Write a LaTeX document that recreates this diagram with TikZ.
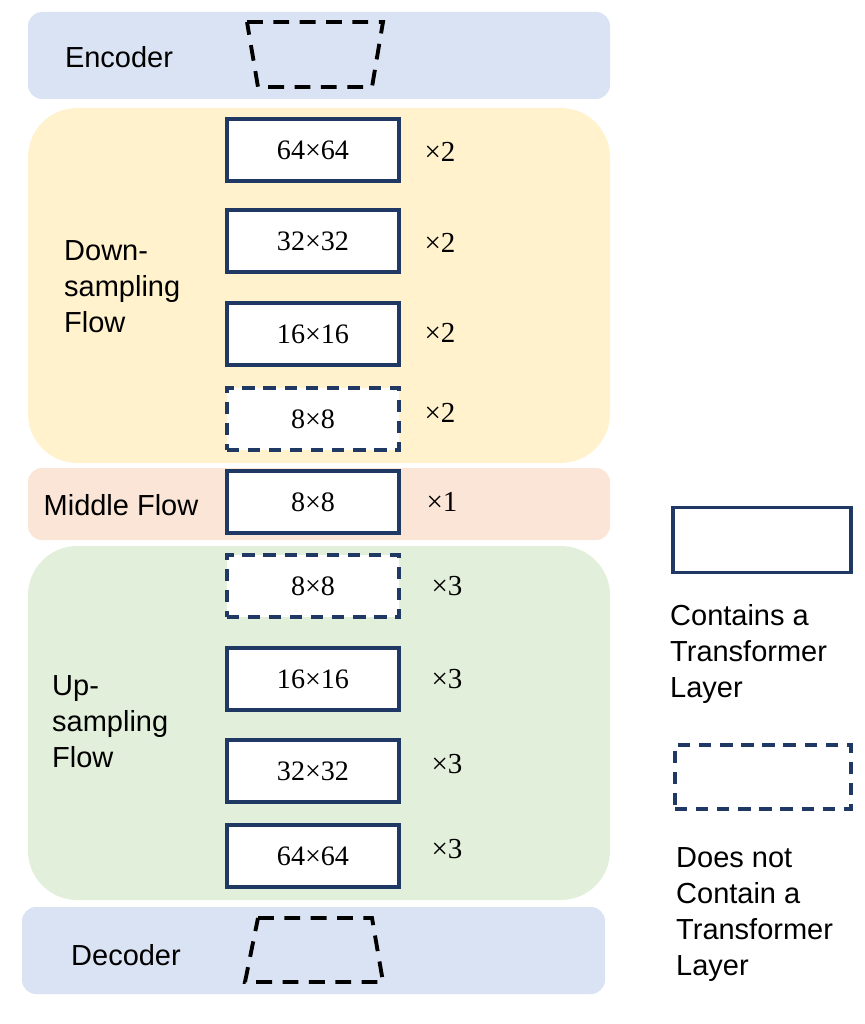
\documentclass[tikz,border=0pt]{standalone}
\usepackage{fontspec}
\setmainfont{Liberation Sans}
\newfontfamily\boxfont{Liberation Serif}
\definecolor{encblue}{RGB}{218,227,243}
\definecolor{downyel}{RGB}{255,242,204}
\definecolor{midred}{RGB}{251,229,214}
\definecolor{upgreen}{RGB}{226,239,218}
\definecolor{navy}{RGB}{31,56,100}
\tikzset{
  band/.style={rounded corners=8pt},
  flow/.style={rounded corners=28pt},
  blk/.style={draw=navy,line width=2.2pt,fill=white,minimum width=3.45cm,minimum height=1.25cm,font=\boxfont\fontsize{16}{18}\selectfont},
  dblk/.style={blk,dashed,dash pattern=on 7pt off 5pt},
  lbl/.style={font=\fontsize{16.5}{20.5}\selectfont,align=left},
  mult/.style={font=\boxfont\fontsize{16.5}{18}\selectfont},
  trap/.style={line width=2.2pt,dash pattern=on 9pt off 6pt}
}
\begin{document}
\begin{tikzpicture}[x=0.02cm,y=-0.02cm]
  \useasboundingbox (0,0) rectangle (865,1024);
  % background bands
  \fill[encblue,band] (28,12) rectangle (610,99);
  \fill[downyel,flow] (28,108) rectangle (610,463);
  \fill[midred,band] (28,468) rectangle (610,540);
  \fill[upgreen,flow] (28,546) rectangle (610,900);
  \fill[encblue,band] (22,907) rectangle (605,994);

  % encoder / decoder
  \node[lbl] (enc) at (119,57) {Encoder};
  \draw[trap] (247,22) -- (383,22) -- (372,87) -- (258,87) -- cycle;
  \node[lbl] (dec) at (126,955) {Decoder};
  \draw[trap] (258,918) -- (372,918) -- (383,982) -- (245,982) -- cycle;

  % flow labels
  \node[lbl,anchor=west] (down) at (58,287) {Down-\\sampling\\Flow};
  \node[lbl] (mid) at (121,505) {Middle Flow};
  \node[lbl,anchor=west] (up) at (46,722) {Up-\\sampling\\Flow};

  % blocks
  \node[blk] (d1) at (313,150) {64×64};
  \node[blk] (d2) at (313,241) {32×32};
  \node[blk] (d3) at (313,334) {16×16};
  \node[dblk] (d4) at (313,419) {8×8};
  \node[blk] (m1) at (313,502) {8×8};
  \node[dblk] (u1) at (313,586) {8×8};
  \node[blk] (u2) at (313,679) {16×16};
  \node[blk] (u3) at (313,771) {32×32};
  \node[blk] (u4) at (313,856) {64×64};

  \foreach \n/\y in {a/152,b/243,c/333,d/413}
    \node[mult] (x\n) at (440,\y) {×2};
  \node[mult] (xm) at (442,502) {×1};
  \foreach \n/\y in {e/586,f/679,g/764,h/849}
    \node[mult] (x\n) at (447,\y) {×3};

  % legend
  \node[blk,minimum width=3.56cm,minimum height=1.3cm] (ls) at (762,540) {};
  \node[lbl,anchor=north west] (lst) at (664,598) {Contains a\\Transformer\\Layer};
  \node[dblk,minimum width=3.52cm,minimum height=1.28cm] (ld) at (763,777) {};
  \node[lbl,anchor=north west] (ldt) at (670,841) {Does not\\Contain a\\Transformer\\Layer};
\end{tikzpicture}
\end{document}
